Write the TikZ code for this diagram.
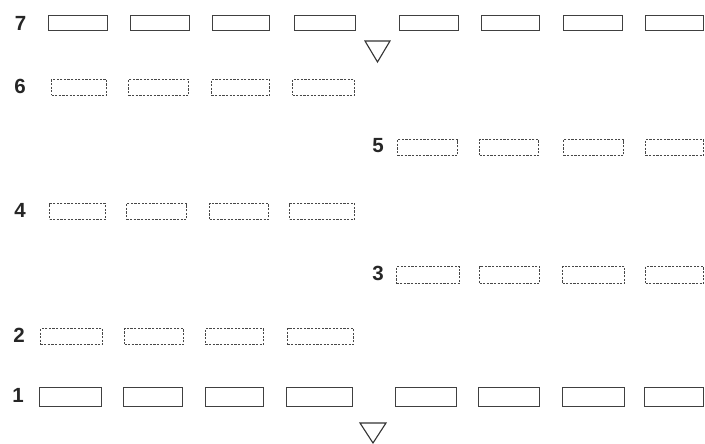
\documentclass[tikz,border=0pt]{standalone}
\usepackage{fontspec}
\setmainfont{Liberation Sans}
\tikzset{
  solidbox/.style={draw=black!75, line width=1pt, inner sep=0pt, anchor=north west},
  dashbox/.style={draw=black!72, line width=1pt, dash pattern=on 2.2pt off 1.4pt, inner sep=0pt, anchor=north west},
  rowlabel/.style={font=\bfseries\fontsize{20.5}{20.5}\selectfont, text=black!85, inner sep=0pt},
  marker/.style={draw=black!80, line width=1.1pt, line join=miter}
}
\begin{document}
\begin{tikzpicture}[x=1pt,y=-1pt]
\useasboundingbox (0,0) rectangle (705,444);
% row 7
\foreach \a/\b [count=\i] in {48/107,130/189,212/269,294/355,399/458,481/539,563/622,645/703}
  \node[solidbox, minimum width={\b-\a}, minimum height=15] (r7b\i) at (\a,15) {};
% row 6
\foreach \a/\b [count=\i] in {51/106,128/188,211/269,292/354}
  \node[dashbox, minimum width={\b-\a}, minimum height=16] (r6b\i) at (\a,79) {};
% row 5
\foreach \a/\b [count=\i] in {397/457,479/538,563/623,645/703}
  \node[dashbox, minimum width={\b-\a}, minimum height=16] (r5b\i) at (\a,139) {};
% row 4
\foreach \a/\b [count=\i] in {49/105,126/186,209/268,289/354}
  \node[dashbox, minimum width={\b-\a}, minimum height=16] (r4b\i) at (\a,203) {};
% row 3
\foreach \a/\b [count=\i] in {396/459,479/539,562/624,645/703}
  \node[dashbox, minimum width={\b-\a}, minimum height=17] (r3b\i) at (\a,266) {};
% row 2
\foreach \a/\b [count=\i] in {40/102,124/183,205/263,287/353}
  \node[dashbox, minimum width={\b-\a}, minimum height=16] (r2b\i) at (\a,328) {};
% row 1
\foreach \a/\b [count=\i] in {39/101,123/182,205/263,286/352,395/456,478/539,562/624,644/703}
  \node[solidbox, minimum width={\b-\a}, minimum height=19] (r1b\i) at (\a,387) {};
% labels
\node[rowlabel] (l7) at (20.5,23.5) {7};
\node[rowlabel] (l6) at (20,86) {6};
\node[rowlabel] (l5) at (378,145.5) {5};
\node[rowlabel] (l4) at (20,210) {4};
\node[rowlabel] (l3) at (378,273) {3};
\node[rowlabel] (l2) at (19,335) {2};
\node[rowlabel] (l1) at (18,395.5) {1};
% markers
\draw[marker] (365,41) -- (390,41) -- (377.5,62) -- cycle;
\draw[marker] (360,423) -- (386,423) -- (373,443) -- cycle;
\end{tikzpicture}
\end{document}
